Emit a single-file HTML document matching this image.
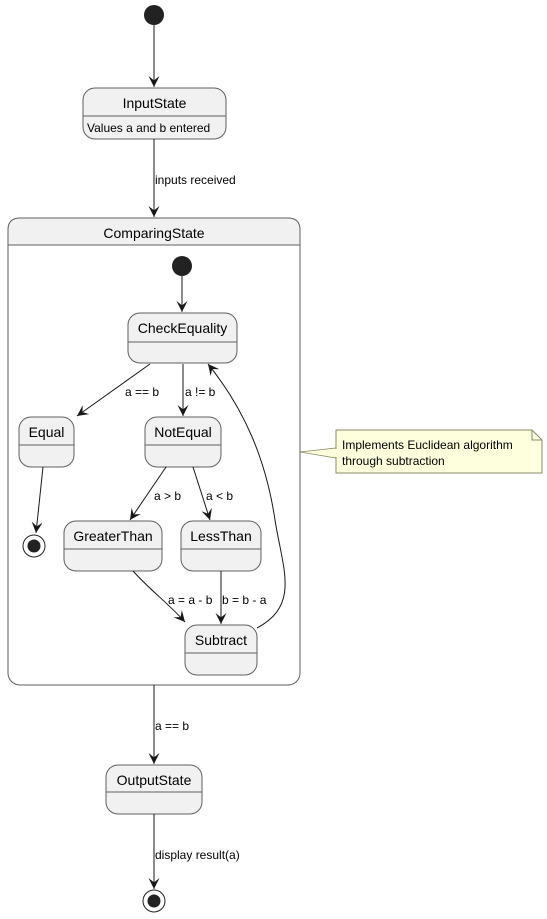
<!DOCTYPE html>
<html><head><meta charset="utf-8"><style>
html,body{margin:0;padding:0;background:#fff;}
svg{display:block;font-family:"Liberation Sans",Arial,sans-serif;}
.n{fill:#F1F1F1;stroke:#5f5f5f;stroke-width:1;}
.l{stroke:#181818;stroke-width:1;fill:none;}
.t{font-size:14px;fill:#000;text-anchor:middle;}
.s{font-size:12px;fill:#000;}
</style></head><body>
<svg width="547" height="919" viewBox="0 0 547 919" xmlns="http://www.w3.org/2000/svg">
<defs>
<marker id="a" viewBox="0 0 10 10" refX="10" refY="5" markerWidth="11" markerHeight="11" markerUnits="userSpaceOnUse" orient="auto">
<path d="M0,0 L10,5 L0,10 L4,5 z" fill="#181818"/>
</marker>
</defs>

<!-- top start -->
<circle cx="154" cy="15" r="10" fill="#222"/>
<line class="l" x1="154" y1="25" x2="154" y2="87" marker-end="url(#a)"/>

<!-- InputState -->
<rect class="n" x="83" y="88" width="143" height="51" rx="12"/>
<line x1="83" y1="116" x2="226" y2="116" stroke="#5f5f5f"/>
<text class="t" x="154.5" y="108">InputState</text>
<text class="s" x="87" y="132">Values a and b entered</text>

<line class="l" x1="154" y1="139" x2="154" y2="217" marker-end="url(#a)"/>
<text class="s" x="155" y="184">inputs received</text>

<!-- ComparingState -->
<rect x="8" y="218" width="292" height="467" rx="12" fill="#fff" stroke="#5f5f5f"/>
<path d="M8,245 L8,230 Q8,218 20,218 L288,218 Q300,218 300,230 L300,245 Z" fill="#F1F1F1" stroke="#5f5f5f"/>
<text class="t" x="154" y="238">ComparingState</text>

<circle cx="182" cy="266" r="10" fill="#222"/>
<line class="l" x1="182" y1="276" x2="182" y2="312" marker-end="url(#a)"/>

<!-- CheckEquality -->
<rect class="n" x="128" y="313" width="109" height="50" rx="12"/>
<line x1="128" y1="342" x2="237" y2="342" stroke="#5f5f5f"/>
<text class="t" x="182.5" y="333">CheckEquality</text>

<!-- Equal -->
<rect class="n" x="19" y="417" width="55" height="50" rx="12"/>
<line x1="19" y1="445" x2="74" y2="445" stroke="#5f5f5f"/>
<text class="t" x="46.5" y="437">Equal</text>

<!-- NotEqual -->
<rect class="n" x="145" y="417" width="76" height="50" rx="12"/>
<line x1="145" y1="445" x2="221" y2="445" stroke="#5f5f5f"/>
<text class="t" x="183" y="437">NotEqual</text>

<!-- GreaterThan -->
<rect class="n" x="64" y="521" width="98" height="50" rx="12"/>
<line x1="64" y1="549" x2="162" y2="549" stroke="#5f5f5f"/>
<text class="t" x="113" y="541">GreaterThan</text>

<!-- LessThan -->
<rect class="n" x="181" y="521" width="80" height="50" rx="12"/>
<line x1="181" y1="549" x2="261" y2="549" stroke="#5f5f5f"/>
<text class="t" x="221" y="541">LessThan</text>

<!-- Subtract -->
<rect class="n" x="185" y="625" width="72" height="50" rx="12"/>
<line x1="185" y1="653" x2="257" y2="653" stroke="#5f5f5f"/>
<text class="t" x="221" y="645">Subtract</text>

<!-- inner end -->
<circle cx="34" cy="546" r="11" fill="#fff" stroke="#222"/>
<circle cx="34" cy="546" r="6.5" fill="#222"/>

<!-- inner arrows -->
<line class="l" x1="150" y1="364" x2="77" y2="416" marker-end="url(#a)"/>
<text class="s" x="125" y="396">a == b</text>
<line class="l" x1="183" y1="364" x2="183" y2="416" marker-end="url(#a)"/>
<text class="s" x="185" y="396">a != b</text>
<line class="l" x1="166" y1="467" x2="130" y2="520" marker-end="url(#a)"/>
<text class="s" x="154" y="500">a &gt; b</text>
<line class="l" x1="193" y1="467" x2="210" y2="520" marker-end="url(#a)"/>
<text class="s" x="206" y="500">a &lt; b</text>
<line class="l" x1="43" y1="467" x2="36" y2="533" marker-end="url(#a)"/>
<path class="l" d="M133,571 C150,590 170,605 185,622" marker-end="url(#a)"/>
<text class="s" x="168" y="604">a = a - b</text>
<line class="l" x1="221" y1="571" x2="221" y2="624" marker-end="url(#a)"/>
<text class="s" x="222" y="604">b = b - a</text>
<path class="l" d="M257,628 C300,605 283,570 275,520 C266,460 245,410 208,364" marker-end="url(#a)"/>

<!-- Note -->
<path d="M300,452 L336,448 L336,458 Z" fill="#FEFFDD" stroke="#8a8a6a" stroke-width="0.8"/>
<path d="M336,430 L532,430 L542,440 L542,473 L336,473 Z" fill="#FEFFDD" stroke="#8a8a6a"/>
<path d="M532,430 L532,440 L542,440" fill="none" stroke="#8a8a6a"/>
<line x1="336" y1="449" x2="336" y2="457" stroke="#FEFFDD" stroke-width="1.5"/>
<text class="s" x="342" y="449">Implements Euclidean algorithm</text>
<text class="s" x="342" y="465">through subtraction</text>

<!-- to OutputState -->
<line class="l" x1="154" y1="685" x2="154" y2="764" marker-end="url(#a)"/>
<text class="s" x="155" y="730">a == b</text>

<rect class="n" x="106" y="765" width="96" height="49" rx="12"/>
<line x1="106" y1="792" x2="202" y2="792" stroke="#5f5f5f"/>
<text class="t" x="154" y="785">OutputState</text>

<line class="l" x1="154" y1="814" x2="154" y2="889" marker-end="url(#a)"/>
<text class="s" x="155" y="859">display result(a)</text>

<circle cx="154" cy="901" r="11" fill="#fff" stroke="#222"/>
<circle cx="154" cy="901" r="6.5" fill="#222"/>
</svg>
</body></html>
